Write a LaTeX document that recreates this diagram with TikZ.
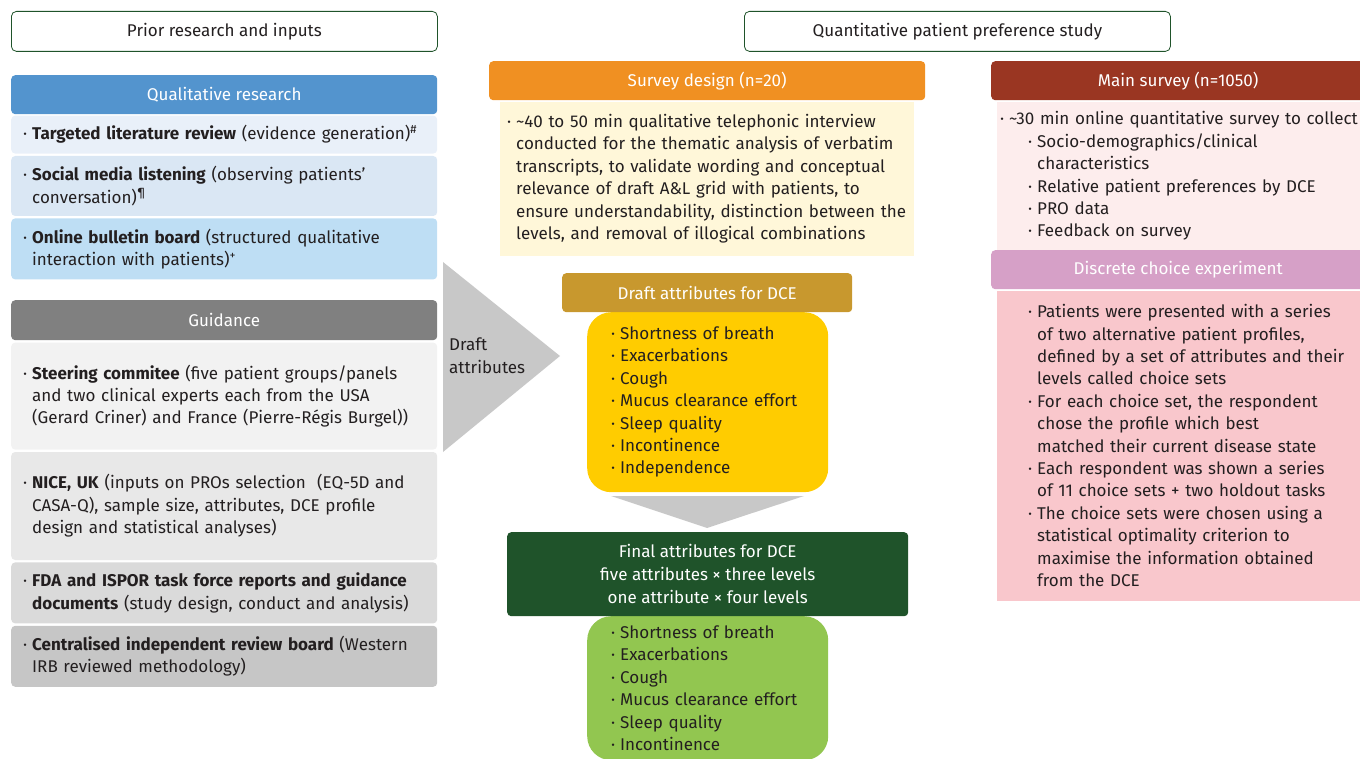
\documentclass[tikz,border=0pt]{standalone}
\usepackage{fontspec}
\setmainfont{Fira Sans}
\usetikzlibrary{positioning}

\definecolor{txt}{RGB}{35,31,32}
\definecolor{frameline}{RGB}{31,83,42}
\definecolor{qualblue}{RGB}{83,148,206}
\definecolor{rowA}{RGB}{233,240,249}
\definecolor{rowB}{RGB}{218,231,244}
\definecolor{rowC}{RGB}{190,222,244}
\definecolor{guidegray}{RGB}{128,128,128}
\definecolor{greyA}{RGB}{242,242,242}
\definecolor{greyB}{RGB}{232,232,232}
\definecolor{greyC}{RGB}{218,218,218}
\definecolor{greyD}{RGB}{198,198,198}
\definecolor{arrowgray}{RGB}{200,200,200}
\definecolor{surveyorange}{RGB}{240,144,34}
\definecolor{paleyellow}{RGB}{255,247,217}
\definecolor{mustard}{RGB}{200,152,46}
\definecolor{draftyellow}{RGB}{255,204,0}
\definecolor{darkgreen}{RGB}{31,83,42}
\definecolor{lightgreen}{RGB}{146,198,80}
\definecolor{mainred}{RGB}{154,54,34}
\definecolor{palepink}{RGB}{253,237,237}
\definecolor{mauve}{RGB}{214,160,199}
\definecolor{dcepink}{RGB}{249,199,204}

\newcommand\bdot{\makebox[9pt][l]{·}}
\newcommand\bgap{\hspace*{9pt}}
\newcommand\subgap{\hspace*{28pt}}

\tikzset{
  every node/.style={font=\fontsize{17}{22.4}\selectfont, text=txt},
  framebox/.style={draw=frameline, line width=0.8pt, rounded corners=5pt, fill=white,
    minimum width=426pt, minimum height=40pt, anchor=north west},
  bar/.style={fill=#1, text=white, rounded corners=4pt, minimum height=39pt,
    anchor=north west, inner sep=0pt},
  row/.style={fill=#1, rounded corners=4pt, anchor=north west, align=left, inner ysep=0pt},
  blob/.style={fill=#1, rounded corners=24pt, anchor=north west, align=left, inner ysep=0pt},
}

\begin{document}
\begin{tikzpicture}[x=1pt,y=-1pt]
  \useasboundingbox (0,0) rectangle (1360,759);

  \fill[arrowgray] (443,262) -- (560,356) -- (443,452) -- cycle;
  \node[anchor=north west, align=left, inner sep=0pt] (draftlbl) at (449,338) {Draft\\attributes};

  \node[framebox] (prior) at (11,11) {Prior research and inputs};
  \node[bar=qualblue, minimum width=426pt] (qual) at (11,75) {Qualitative research};
  \node[row=rowA, minimum width=426pt, minimum height=38pt, text width=402pt, inner xsep=12pt,
    below=1pt of qual.south west, anchor=north west] (tlr)
    {\bdot\textbf{Targeted literature review} (evidence generation)\textsuperscript{\#}};
  \node[row=rowB, minimum width=426pt, minimum height=60pt, text width=402pt, inner xsep=12pt,
    below=2pt of tlr.south west, anchor=north west] (sml)
    {\bdot\textbf{Social media listening} (observing patients’\\\bgap conversation)\textsuperscript{¶}};
  \node[row=rowC, minimum width=426pt, minimum height=61pt, text width=402pt, inner xsep=12pt,
    below=2pt of sml.south west, anchor=north west] (obb)
    {\bdot\textbf{Online bulletin board} (structured qualitative\\\bgap interaction with patients)\textsuperscript{+}};

  \node[bar=guidegray, minimum width=426pt, minimum height=40pt] (guide) at (11,300) {Guidance};
  \node[row=greyA, minimum width=426pt, minimum height=107pt, text width=402pt, inner xsep=12pt,
    below=2pt of guide.south west, anchor=north west] (steer)
    {\bdot\textbf{Steering commitee} (five patient groups/panels\\\bgap and two clinical experts each from the USA\\\bgap (Gerard Criner) and France (Pierre-Régis Burgel))};
  \node[row=greyB, minimum width=426pt, minimum height=108pt, text width=402pt, inner xsep=12pt,
    below=2pt of steer.south west, anchor=north west] (nice)
    {\bdot\textbf{NICE, UK} (inputs on PROs selection~ (EQ-5D and\\\bgap CASA-Q), sample size, attributes, DCE profile\\\bgap design and statistical analyses)};
  \node[row=greyC, minimum width=426pt, minimum height=61pt, text width=402pt, inner xsep=12pt,
    below=2pt of nice.south west, anchor=north west] (fda)
    {\bdot\textbf{FDA and ISPOR task force reports and guidance}\\\bgap\textbf{documents} (study design, conduct and analysis)};
  \node[row=greyD, minimum width=426pt, minimum height=61pt, text width=402pt, inner xsep=12pt,
    below=2pt of fda.south west, anchor=north west] (cirb)
    {\bdot\textbf{Centralised independent review board} (Western\\\bgap IRB reviewed methodology)};

  \node[framebox] (quant) at (744,11) {Quantitative patient preference study};

  \node[bar=surveyorange, minimum width=436pt] (design) at (489,61) {Survey design (n=20)};
  \node[row=paleyellow, rounded corners=0pt, minimum width=414pt, minimum height=154pt, text width=400pt,
    inner xsep=7pt, below=1pt of design.south west, xshift=11pt, anchor=north west] (interview)
    {\bdot\textasciitilde40 to 50 min qualitative telephonic interview\\\bgap conducted for the thematic analysis of verbatim\\\bgap transcripts, to validate wording and conceptual\\\bgap relevance of draft A\&L grid with patients, to\\\bgap ensure understandability, distinction between the\\\bgap levels, and removal of illogical combinations};

  \node[blob=draftyellow, minimum width=241pt, minimum height=180pt, text width=217pt, inner xsep=12pt]
    (draftlist) at (587,312)
    {\hspace*{12pt}\bdot Shortness of breath\\\hspace*{12pt}\bdot Exacerbations\\\hspace*{12pt}\bdot Cough\\\hspace*{12pt}\bdot Mucus clearance effort\\\hspace*{12pt}\bdot Sleep quality\\\hspace*{12pt}\bdot Incontinence\\\hspace*{12pt}\bdot Independence};
  \node[bar=mustard, minimum width=290pt] (draft) at (562,273) {Draft attributes for DCE};

  \fill[arrowgray] (611,496) -- (804,496) -- (707,528) -- cycle;

  \node[blob=lightgreen, minimum width=241pt, minimum height=144pt, text width=217pt, inner xsep=12pt]
    (finallist) at (587,616)
    {\hspace*{12pt}\bdot Shortness of breath\\\hspace*{12pt}\bdot Exacerbations\\\hspace*{12pt}\bdot Cough\\\hspace*{12pt}\bdot Mucus clearance effort\\\hspace*{12pt}\bdot Sleep quality\\\hspace*{12pt}\bdot Incontinence};
  \node[bar=darkgreen, minimum width=401pt, minimum height=84pt, align=center,
    font=\fontsize{17}{23}\selectfont] (final) at (507,532)
    {Final attributes for DCE\\five attributes × three levels\\one attribute × four levels};

  \node[bar=mainred, minimum width=374pt] (main) at (991,61) {Main survey (n=1050)};
  \node[row=palepink, rounded corners=0pt, minimum width=368pt, minimum height=149pt, text width=362pt,
    inner xsep=3pt, below=1pt of main.south west, xshift=6pt, anchor=north west] (collect)
    {\bdot\textasciitilde30 min online quantitative survey to collect\\\subgap\bdot Socio-demographics/clinical\\\subgap\bgap characteristics\\\subgap\bdot Relative patient preferences by DCE\\\subgap\bdot PRO data\\\subgap\bdot Feedback on survey};
  \node[bar=mauve, minimum width=374pt] (dce) at (991,250) {Discrete choice experiment};
  \node[row=dcepink, rounded corners=0pt, minimum width=368pt, minimum height=310pt, text width=362pt,
    inner xsep=3pt, below=1pt of dce.south west, xshift=6pt, anchor=north west] (dcebody)
    {\subgap\bdot Patients were presented with a series\\\subgap\bgap of two alternative patient profiles,\\\subgap\bgap defined by a set of attributes and their\\\subgap\bgap levels called choice sets\\\subgap\bdot For each choice set, the respondent\\\subgap\bgap chose the profile which best\\\subgap\bgap matched their current disease state\\\subgap\bdot Each respondent was shown a series\\\subgap\bgap of 11 choice sets + two holdout tasks\\\subgap\bdot The choice sets were chosen using a\\\subgap\bgap statistical optimality criterion to\\\subgap\bgap maximise the information obtained\\\subgap\bgap from the DCE};
\end{tikzpicture}
\end{document}
